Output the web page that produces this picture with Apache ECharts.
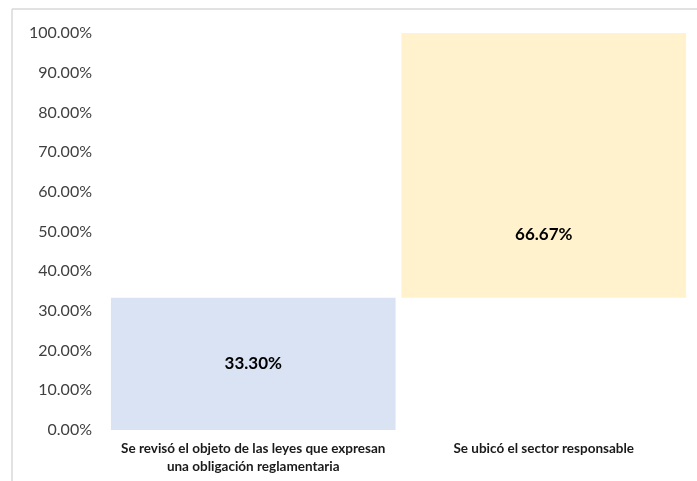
<!DOCTYPE html>
<html>
<head>
<meta charset="utf-8">
<script src="https://cdn.jsdelivr.net/npm/echarts@6/dist/echarts.min.js"></script>
<style>
  html, body { margin: 0; padding: 0; background: #fff; }
  #chart { width: 697px; height: 481px; }
</style>
</head>
<body>
<div id="chart"></div>
<script>
// Categories and values (percent)
var categories = [
  'Se revisó el objeto de las leyes que expresan\nuna obligación reglamentaria',
  'Se ubicó el sector responsable'
];
var stepValues = [33.30, 66.67];
var barColors = ['#dae3f3', '#fff2cc'];

// Floating offsets: each step starts where the previous one ended
var offsets = [];
var running = 0;
for (var i = 0; i < stepValues.length; i++) {
  offsets.push(running);
  running += stepValues[i];
}

var chart = echarts.init(document.getElementById('chart'));
chart.setOption({
  animation: false,
  textStyle: { fontFamily: 'Lato, "Liberation Sans", sans-serif' },
  graphic: [
    { type: 'line', shape: { x1: 12, y1: 9, x2: 697, y2: 9 }, style: { stroke: '#d9d9d9', lineWidth: 1.5 } },
    { type: 'line', shape: { x1: 12, y1: 9, x2: 12, y2: 481 }, style: { stroke: '#d9d9d9', lineWidth: 1.5 } }
  ],
  grid: { left: 108, right: 8, top: 33, bottom: 51 },
  xAxis: {
    type: 'category',
    data: categories,
    axisLine: { show: false },
    axisTick: { show: false },
    axisLabel: {
      color: '#1a1a1a',
      fontWeight: 'bold',
      fontSize: 13.5,
      lineHeight: 18,
      margin: 10,
      interval: 0
    }
  },
  yAxis: {
    type: 'value',
    min: 0,
    max: 100,
    interval: 10,
    splitLine: { show: false },
    axisLine: { show: false },
    axisTick: { show: false },
    axisLabel: {
      color: '#404040',
      fontSize: 16,
      margin: 16,
      formatter: function (v) { return v.toFixed(2) + '%'; }
    }
  },
  series: [
    {
      type: 'bar',
      stack: 'steps',
      silent: true,
      itemStyle: { color: 'transparent' },
      data: offsets,
      barCategoryGap: '2%'
    },
    {
      type: 'bar',
      stack: 'steps',
      barCategoryGap: '2%',
      data: stepValues.map(function (v, i) {
        return {
          value: v,
          itemStyle: { color: barColors[i] },
          label: i === 1 ? { position: ['50%', '76%'] } : { position: 'inside' }
        };
      }),
      label: {
        show: true,
        color: '#000',
        fontWeight: 'bold',
        fontSize: 17,
        align: 'center',
        verticalAlign: 'middle',
        formatter: function (p) { return p.value.toFixed(2) + '%'; }
      }
    }
  ]
});
</script>
</body>
</html>
